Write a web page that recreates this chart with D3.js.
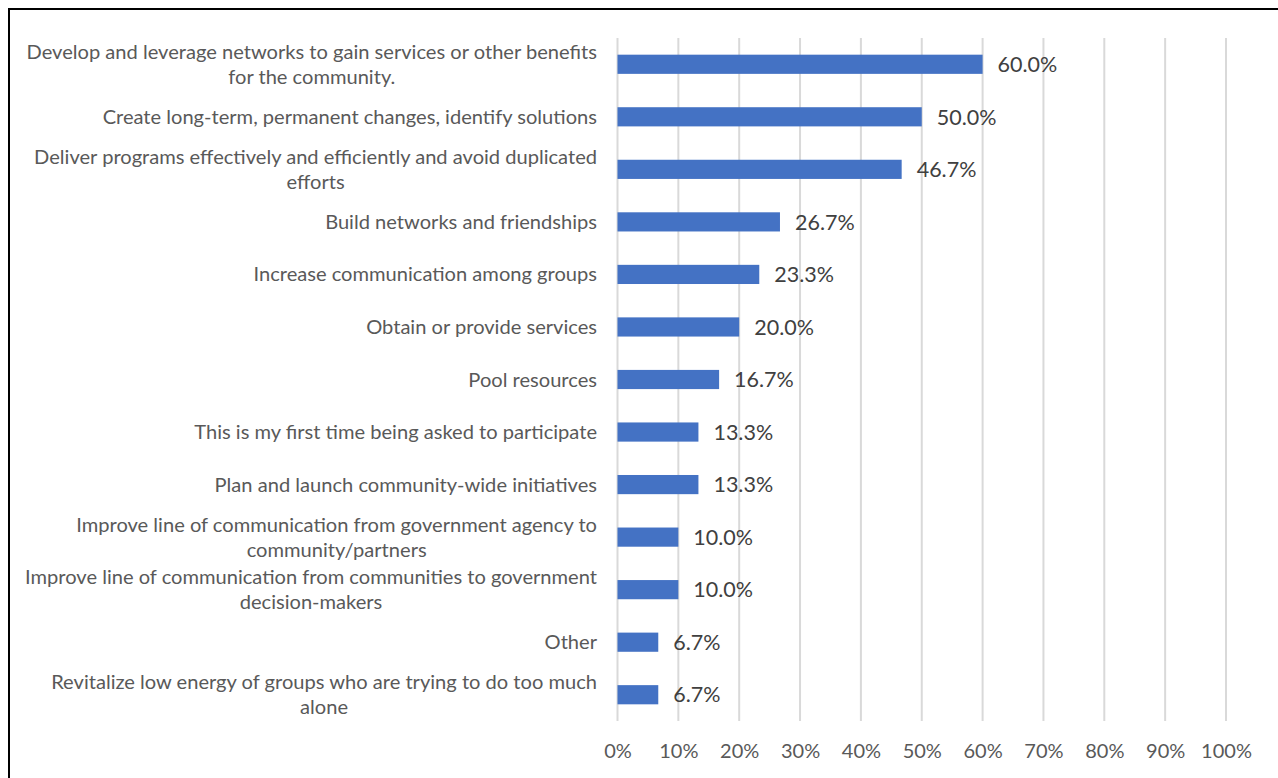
<!DOCTYPE html>
<html>
<head>
<meta charset="utf-8">
<script src="https://cdn.jsdelivr.net/npm/d3@7/dist/d3.min.js"></script>
<style>
  html, body { margin: 0; padding: 0; background: #fff; }
  svg { display: block; }
</style>
</head>
<body>
<svg id="chart" width="1278" height="778"></svg>
<script>
// Survey responses: reasons for collaborating (share of respondents)
const categories = [
  "Develop and leverage networks to gain services or other benefits\nfor the community.",
  "Create long-term, permanent changes, identify solutions",
  "Deliver programs effectively and efficiently and avoid duplicated\nefforts",
  "Build networks and friendships",
  "Increase communication among groups",
  "Obtain or provide services",
  "Pool resources",
  "This is my first time being asked to participate",
  "Plan and launch community-wide initiatives",
  "Improve line of communication from government agency to\ncommunity/partners",
  "Improve line of communication from communities to government\ndecision-makers",
  "Other",
  "Revitalize low energy of groups who are trying to do too much\nalone"
];
const values = [60.0, 50.0, 46.7, 26.7, 23.3, 20.0, 16.7, 13.3, 13.3, 10.0, 10.0, 6.7, 6.7];
const tickValues = [0, 10, 20, 30, 40, 50, 60, 70, 80, 90, 100];

const FONT = "Lato, 'Open Sans', sans-serif";
const svg = d3.select("#chart");

// outer frame (only top and left edges fall inside the view)
svg.append("rect")
  .attr("x", 9).attr("y", 9)
  .attr("width", 1400).attr("height", 1000)
  .attr("fill", "none").attr("stroke", "#000").attr("stroke-width", 2);

const x = d3.scaleLinear().domain([0, 100]).range([617.5, 1226]);
const y = d3.scaleBand()
  .domain(d3.range(categories.length))
  .range([38, 721])
  .paddingInner(0.635)
  .paddingOuter(0.3175);

// vertical gridlines
svg.append("g")
  .selectAll("line")
  .data(tickValues)
  .join("line")
  .attr("x1", d => x(d)).attr("x2", d => x(d))
  .attr("y1", 38).attr("y2", 721)
  .attr("stroke", "#d9d9d9").attr("stroke-width", 2);

// x axis labels
const xAxis = d3.axisBottom(x)
  .tickValues(tickValues)
  .tickFormat(d => d + "%")
  .tickSize(0)
  .tickPadding(0);
const gx = svg.append("g")
  .attr("transform", "translate(0,721)")
  .call(xAxis);
gx.select(".domain").remove();
gx.selectAll("text")
  .attr("dy", null)
  .attr("y", 37)
  .attr("fill", "#595959")
  .style("font-family", FONT)
  .style("font-size", "20px");

// bars
svg.append("g")
  .selectAll("rect")
  .data(values)
  .join("rect")
  .attr("x", x(0))
  .attr("y", (d, i) => y(i))
  .attr("width", d => x(d) - x(0))
  .attr("height", y.bandwidth())
  .attr("fill", "#4472c4");

// value labels
svg.append("g")
  .selectAll("text")
  .data(values)
  .join("text")
  .attr("x", d => x(d) + 15)
  .attr("y", (d, i) => y(i) + y.bandwidth() / 2)
  .attr("dy", "0.36em")
  .attr("fill", "#404040")
  .style("font-family", FONT)
  .style("font-size", "21.5px")
  .text(d => d.toFixed(1) + "%");

// category labels: block right aligned to the plot, lines centred in the block
const labelRight = 597;
const catG = svg.append("g");
categories.forEach((c, i) => {
  const lines = c.split("\n");
  const cy = y(i) + y.bandwidth() / 2;
  const lh = 25;
  const t = catG.append("text")
    .attr("text-anchor", "middle")
    .attr("fill", "#595959")
    .style("font-family", FONT)
    .style("font-size", "20.1px");
  const spans = lines.map((ln, k) => t.append("tspan")
    .attr("y", cy + (k - (lines.length - 1) / 2) * lh)
    .attr("dy", "0.35em")
    .text(ln));
  const w = d3.max(spans, s => s.node().getComputedTextLength());
  spans.forEach(s => s.attr("x", labelRight - w / 2));
});
</script>
</body>
</html>
